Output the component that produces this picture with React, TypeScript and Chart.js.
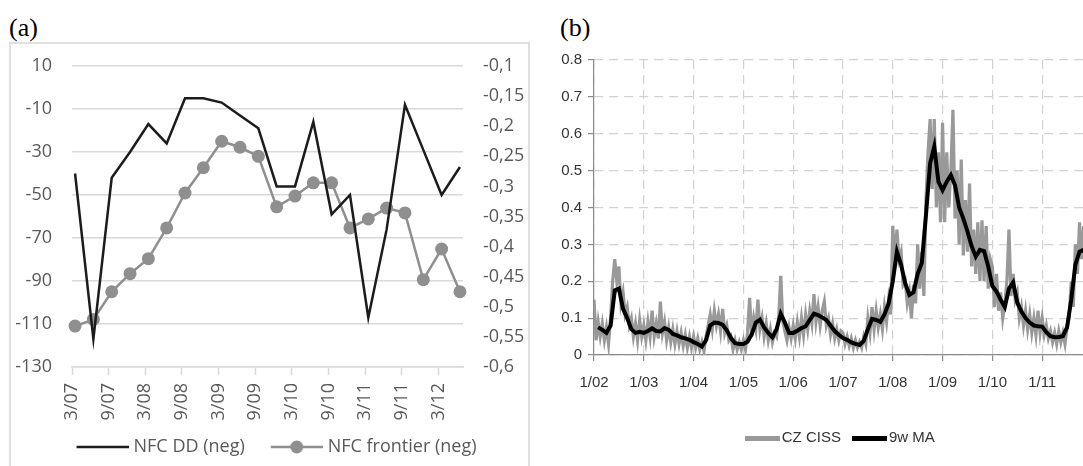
import React, { useEffect, useRef } from "react";
import { Chart, registerables } from "chart.js";

Chart.register(...registerables);

// ---------------- Panel (a): quarterly, dual axis ----------------
const quarterLabels = [
  "3/07", "6/07", "9/07", "12/07", "3/08", "6/08", "9/08", "12/08",
  "3/09", "6/09", "9/09", "12/09", "3/10", "6/10", "9/10", "12/10",
  "3/11", "6/11", "9/11", "12/11", "3/12", "6/12",
];
const nfcDD = [
  -40, -117, -42, -30, -17, -26, -5, -5, -7, -13, -19,
  -46, -46, -16, -59, -50, -107, -66, -8, -29, -50, -37,
];
const nfcFrontier = [
  -0.532, -0.521, -0.475, -0.445, -0.42, -0.369, -0.311, -0.269, -0.225, -0.235, -0.25,
  -0.334, -0.316, -0.294, -0.294, -0.369, -0.354, -0.336, -0.344, -0.455, -0.404, -0.475,
];
const aXTickLabels = ["3/07", "9/07", "3/08", "9/08", "3/09", "9/09", "3/10", "9/10", "3/11", "9/11", "3/12"];
const aAxisStart = "3/07";
const aAxisEnd = "7/12";

// ---------------- Panel (b): CZ CISS (semi-monthly reading) and 9w MA (monthly reading) ----------------
const ciss2002 = [0.15, 0.04, 0.09, 0.05, 0.085, 0.04, 0.075, 0.03, 0.1, 0.2, 0.26, 0.2, 0.24, 0.14, 0.17, 0.11, 0.13, 0.08, 0.1, 0.05, 0.085, 0.04, 0.095, 0.05];
const ciss2003 = [0.08, 0.04, 0.09, 0.05, 0.12, 0.05, 0.085, 0.045, 0.145, 0.06, 0.09, 0.04, 0.075, 0.035, 0.07, 0.03, 0.065, 0.03, 0.06, 0.025, 0.055, 0.02, 0.05, 0.02];
const ciss2004 = [0.05, 0.02, 0.045, 0.015, 0.035, 0.01, 0.05, 0.08, 0.11, 0.07, 0.12, 0.08, 0.11, 0.065, 0.125, 0.06, 0.08, 0.04, 0.05, 0.015, 0.04, 0.015, 0.035, 0.015];
const ciss2005 = [0.04, 0.015, 0.06, 0.155, 0.05, 0.1, 0.07, 0.15, 0.07, 0.1, 0.05, 0.085, 0.04, 0.07, 0.035, 0.06, 0.05, 0.1, 0.215, 0.09, 0.065, 0.04, 0.075, 0.045];
const ciss2006 = [0.08, 0.045, 0.09, 0.05, 0.1, 0.055, 0.11, 0.07, 0.12, 0.085, 0.165, 0.09, 0.13, 0.08, 0.12, 0.145, 0.08, 0.1, 0.055, 0.085, 0.045, 0.07, 0.04, 0.065];
const ciss2007 = [0.06, 0.03, 0.05, 0.025, 0.045, 0.02, 0.04, 0.02, 0.035, 0.02, 0.05, 0.03, 0.1, 0.06, 0.13, 0.07, 0.12, 0.075, 0.11, 0.07, 0.13, 0.09, 0.15, 0.11];
const ciss2008 = [0.35, 0.25, 0.34, 0.26, 0.28, 0.19, 0.2, 0.14, 0.17, 0.1, 0.19, 0.14, 0.3, 0.18, 0.28, 0.16, 0.42, 0.55, 0.64, 0.45, 0.64, 0.4, 0.55, 0.36];
const ciss2009 = [0.63, 0.36, 0.55, 0.4, 0.5, 0.665, 0.37, 0.5, 0.3, 0.53, 0.27, 0.42, 0.28, 0.465, 0.24, 0.34, 0.22, 0.36, 0.2, 0.365, 0.2, 0.35, 0.18, 0.26];
const ciss2010 = [0.24, 0.13, 0.22, 0.12, 0.17, 0.1, 0.14, 0.2, 0.34, 0.16, 0.22, 0.15, 0.17, 0.1, 0.13, 0.08, 0.12, 0.07, 0.11, 0.06, 0.1, 0.055, 0.12, 0.06];
const ciss2011 = [0.1, 0.055, 0.08, 0.045, 0.065, 0.035, 0.06, 0.03, 0.065, 0.035, 0.06, 0.03, 0.075, 0.1, 0.2, 0.13, 0.3, 0.22, 0.36, 0.26, 0.35];
const cissStartYear = 2002;
const cissPerYear = 24;

const ma2002 = [null, 0.075, 0.068, 0.06, 0.08, 0.175, 0.18, 0.125, 0.1, 0.07, 0.06, 0.063];
const ma2003 = [0.06, 0.065, 0.072, 0.065, 0.064, 0.073, 0.068, 0.057, 0.053, 0.048, 0.045, 0.041];
const ma2004 = [0.035, 0.03, 0.023, 0.04, 0.08, 0.088, 0.087, 0.082, 0.067, 0.046, 0.032, 0.03];
const ma2005 = [0.03, 0.036, 0.056, 0.088, 0.096, 0.075, 0.06, 0.048, 0.07, 0.112, 0.088, 0.06];
const ma2006 = [0.06, 0.066, 0.073, 0.078, 0.095, 0.112, 0.108, 0.102, 0.095, 0.08, 0.065, 0.055];
const ma2007 = [0.046, 0.041, 0.034, 0.03, 0.027, 0.038, 0.07, 0.098, 0.095, 0.09, 0.11, 0.14];
const ma2008 = [0.2, 0.28, 0.245, 0.195, 0.163, 0.17, 0.22, 0.25, 0.38, 0.52, 0.565, 0.47];
const ma2009 = [0.447, 0.47, 0.488, 0.46, 0.4, 0.37, 0.335, 0.295, 0.267, 0.285, 0.282, 0.24];
const ma2010 = [0.187, 0.172, 0.15, 0.13, 0.18, 0.197, 0.142, 0.118, 0.1, 0.088, 0.08, 0.078];
const ma2011 = [0.077, 0.062, 0.051, 0.048, 0.049, 0.051, 0.075, 0.15, 0.245, 0.28, 0.285];
const maStartYear = 2002;
const maPerYear = 12;

const bXTickLabels = ["1/02", "1/03", "1/04", "1/05", "1/06", "1/07", "1/08", "1/09", "1/10", "1/11"];
const bYTicks = [0, 0.1, 0.2, 0.3, 0.4, 0.5, 0.6, 0.7, 0.8];
const bXMax = 2011.82;

// ---------------- helpers ----------------
const monthOffset = (label: string) => {
  const [m, y] = label.split("/").map(Number);
  const [m0, y0] = aAxisStart.split("/").map(Number);
  return (y - y0) * 12 + (m - m0);
};
const yearOfTick = (label: string) => 2000 + Number(label.split("/")[1]);

function lineImage(w: number, h: number, color: string, lw: number, x0 = 0, markerR = 0) {
  const c = document.createElement("canvas");
  c.width = w;
  c.height = h;
  const ctx = c.getContext("2d")!;
  ctx.strokeStyle = color;
  ctx.fillStyle = color;
  ctx.lineWidth = lw;
  ctx.beginPath();
  ctx.moveTo(x0, h / 2);
  ctx.lineTo(w, h / 2);
  ctx.stroke();
  if (markerR > 0) {
    ctx.beginPath();
    ctx.arc((x0 + w) / 2, h / 2, markerR, 0, Math.PI * 2);
    ctx.fill();
  }
  return c;
}

const legendShift = {
  id: "legendShift",
  afterLayout(chart: any, _args: any, opts: any) {
    const lg = chart.legend;
    if (lg && opts && opts.dx) {
      lg.left += opts.dx;
      lg.right += opts.dx;
    }
  },
};

const A_TEXT = "#595959";
const A_GRID = "#d9d9d9";
const A_BLACK = "#1c1c1c";
const A_GRAY = "#8f8f8f";
const A_FONT = "'Open Sans', 'Noto Sans', sans-serif";
const CLEAR = "rgba(0,0,0,0)";

const B_TEXT = "#333333";
const B_AXIS = "#8a8a8a";
const B_GRID = "#d2d2d2";
const B_GRAY = "#999999";
const B_BLACK = "#000000";
const B_FONT = "'Liberation Sans', Arial, sans-serif";

export default function App() {
  const refA = useRef<HTMLCanvasElement>(null);
  const refB = useRef<HTMLCanvasElement>(null);

  useEffect(() => {
    document.body.style.margin = "0";

    // ---- chart (a) ----
    const imgsA = [lineImage(70, 4, A_BLACK, 2.5, 18), lineImage(70, 14, A_GRAY, 2.5, 18, 6.5)];
    const chartA = new Chart(refA.current!, {
      type: "line",
      data: {
        datasets: [
          {
            label: "NFC DD (neg)",
            data: quarterLabels.map((q, i) => ({ x: monthOffset(q) + 0.5, y: nfcDD[i] })),
            borderColor: A_BLACK,
            borderWidth: 2.5,
            pointRadius: 0,
            tension: 0,
            yAxisID: "y",
          },
          {
            label: "NFC frontier (neg)",
            data: quarterLabels.map((q, i) => ({ x: monthOffset(q) + 0.5, y: nfcFrontier[i] })),
            borderColor: A_GRAY,
            borderWidth: 2.5,
            pointRadius: 6.5,
            pointBackgroundColor: A_GRAY,
            pointBorderWidth: 0,
            tension: 0,
            clip: false,
            yAxisID: "y1",
          },
        ],
      },
      options: {
        responsive: false,
        animation: false,
        events: [],
        layout: { padding: { top: 22, left: 0, right: 0, bottom: 0 } },
        scales: {
          x: {
            type: "linear",
            min: monthOffset(aAxisStart),
            max: monthOffset(aAxisEnd),
            afterBuildTicks: (s: any) => {
              s.ticks = aXTickLabels.map((l) => ({ value: monthOffset(l) }));
            },
            afterFit: (s: any) => {
              s.height = 59;
            },
            ticks: {
              autoSkip: false,
              minRotation: 90,
              maxRotation: 90,
              padding: 8,
              color: A_TEXT,
              font: { family: A_FONT, size: 18 },
              callback: (_v: any, i: number) => aXTickLabels[i],
            },
            grid: { drawOnChartArea: false, drawTicks: true, tickLength: 8, tickColor: A_GRID, tickWidth: 1.5 },
            border: { display: true, color: A_GRID, width: 1.5 },
          },
          y: {
            position: "left",
            min: -130,
            max: 10,
            afterFit: (s: any) => {
              s.width = 61;
            },
            ticks: { stepSize: 20, padding: 0, color: A_TEXT, font: { family: A_FONT, size: 18 } },
            grid: { color: A_GRID, lineWidth: 1.5, drawTicks: true, tickLength: 20, tickColor: CLEAR },
            border: { display: false },
          },
          y1: {
            position: "right",
            min: -0.6,
            max: -0.1,
            afterFit: (s: any) => {
              s.width = 65;
            },
            ticks: {
              stepSize: 0.05,
              padding: 0,
              color: A_TEXT,
              font: { family: A_FONT, size: 18 },
              callback: (v: any) => String(Math.round(Number(v) * 100) / 100).replace(".", ","),
            },
            grid: { drawOnChartArea: false, drawTicks: true, tickLength: 20, tickColor: CLEAR },
            border: { display: false },
          },
        },
        plugins: {
          legend: {
            position: "bottom",
            labels: {
              usePointStyle: true,
              pointStyleWidth: 62,
              boxHeight: 18,
              padding: 12,
              color: A_TEXT,
              font: { family: A_FONT, size: 18 },
              generateLabels: (chart: any) =>
                chart.data.datasets.map((ds: any, i: number) => ({
                  text: ds.label,
                  pointStyle: imgsA[i],
                  fillStyle: ds.borderColor,
                  strokeStyle: ds.borderColor,
                  lineWidth: 0,
                  hidden: false,
                  datasetIndex: i,
                  fontColor: A_TEXT,
                })),
            },
          },
          tooltip: { enabled: false },
          legendShift: { dx: 0 },
        } as any,
      },
      plugins: [legendShift],
    } as any);

    // ---- chart (b) ----
    const cissAll = [
      ...ciss2002, ...ciss2003, ...ciss2004, ...ciss2005, ...ciss2006,
      ...ciss2007, ...ciss2008, ...ciss2009, ...ciss2010, ...ciss2011,
    ];
    const maAll = [
      ...ma2002, ...ma2003, ...ma2004, ...ma2005, ...ma2006,
      ...ma2007, ...ma2008, ...ma2009, ...ma2010, ...ma2011,
    ];
    const imgsB = [lineImage(35, 5, B_GRAY, 5), lineImage(35, 5, B_BLACK, 5)];
    const chartB = new Chart(refB.current!, {
      type: "line",
      data: {
        datasets: [
          {
            label: "CZ CISS",
            data: cissAll.map((v, k) => ({ x: cissStartYear + k / cissPerYear, y: v })),
            borderColor: B_GRAY,
            borderWidth: 3.2,
            pointRadius: 0,
            tension: 0,
            order: 2,
          },
          {
            label: "9w MA",
            data: maAll.map((v, k) => ({ x: maStartYear + k / maPerYear, y: v })),
            borderColor: B_BLACK,
            borderWidth: 4,
            pointRadius: 0,
            tension: 0,
            order: 1,
          },
        ],
      },
      options: {
        responsive: false,
        animation: false,
        events: [],
        layout: { padding: { top: 16, left: 0, right: 0, bottom: 10.5 } },
        scales: {
          x: {
            type: "linear",
            min: yearOfTick(bXTickLabels[0]),
            max: bXMax,
            afterBuildTicks: (s: any) => {
              s.ticks = bXTickLabels.map((l) => ({ value: yearOfTick(l) }));
            },
            afterFit: (s: any) => {
              s.height = 59;
            },
            ticks: {
              autoSkip: false,
              maxRotation: 0,
              padding: 13,
              color: B_TEXT,
              font: { family: B_FONT, size: 15 },
              callback: (_v: any, i: number) => bXTickLabels[i],
            },
            grid: { color: B_GRID, lineWidth: 1.2, drawTicks: true, tickLength: 6, tickColor: B_AXIS, tickWidth: 1.2 },
            border: { display: true, color: B_AXIS, width: 1.2, dash: [9, 6] },
          },
          y: {
            min: 0,
            max: 0.8,
            afterBuildTicks: (s: any) => {
              s.ticks = bYTicks.map((v) => ({ value: v }));
            },
            afterFit: (s: any) => {
              s.width = 54;
            },
            ticks: {
              padding: 6,
              color: B_TEXT,
              font: { family: B_FONT, size: 15 },
              callback: (v: any) => (Number(v) === 0 ? "0" : Number(v).toFixed(1)),
            },
            grid: { color: B_GRID, lineWidth: 1.2, drawTicks: true, tickLength: 6, tickColor: B_AXIS, tickWidth: 1.2 },
            border: { display: true, color: B_AXIS, width: 1.2, dash: [9, 6] },
          },
        },
        plugins: {
          legend: {
            position: "bottom",
            labels: {
              usePointStyle: true,
              pointStyleWidth: 24,
              boxHeight: 15,
              padding: 16.5,
              color: B_TEXT,
              font: { family: B_FONT, size: 15 },
              generateLabels: (chart: any) =>
                chart.data.datasets.map((ds: any, i: number) => ({
                  text: ds.label,
                  pointStyle: imgsB[i],
                  fillStyle: ds.borderColor,
                  strokeStyle: ds.borderColor,
                  lineWidth: 0,
                  hidden: false,
                  datasetIndex: i,
                  fontColor: B_TEXT,
                })),
            },
          },
          tooltip: { enabled: false },
          legendShift: { dx: 31 },
        } as any,
      },
      plugins: [legendShift],
    } as any);

    return () => {
      chartA.destroy();
      chartB.destroy();
    };
  }, []);

  return (
    <div
      style={{
        position: "absolute",
        left: 0,
        top: 0,
        width: 1083,
        height: 466,
        overflow: "hidden",
        background: "#ffffff",
      }}
    >
      <div
        style={{
          position: "absolute",
          left: 9,
          top: 15,
          fontFamily: "'Liberation Serif', 'Times New Roman', serif",
          fontSize: 26,
          lineHeight: "26px",
          color: "#000",
        }}
      >
        (a)
      </div>
      <div
        style={{
          position: "absolute",
          left: 9,
          top: 42,
          width: 521,
          height: 440,
          border: "2px solid #e0e0e0",
          boxSizing: "border-box",
        }}
      />
      <canvas
        ref={refA}
        width={517}
        height={422}
        style={{ position: "absolute", left: 11, top: 44, width: 517, height: 422 }}
      />
      <div
        style={{
          position: "absolute",
          left: 560,
          top: 15,
          fontFamily: "'Liberation Serif', 'Times New Roman', serif",
          fontSize: 26,
          lineHeight: "26px",
          color: "#000",
        }}
      >
        (b)
      </div>
      <canvas
        ref={refB}
        width={543}
        height={422}
        style={{ position: "absolute", left: 540, top: 44, width: 543, height: 422 }}
      />
    </div>
  );
}
